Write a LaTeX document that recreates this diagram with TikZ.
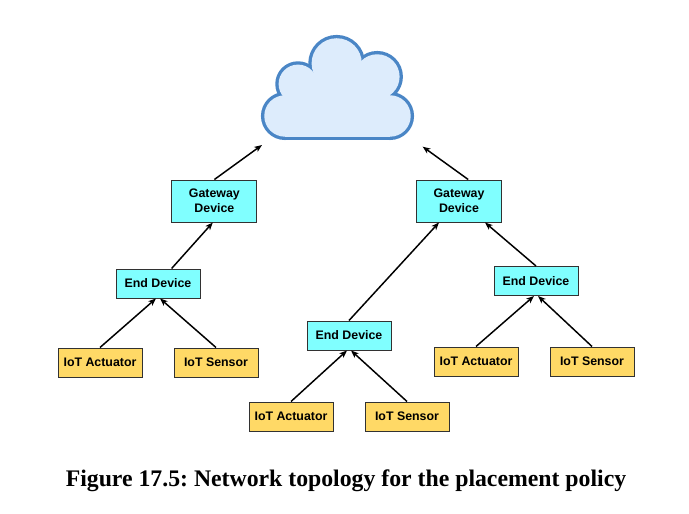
\documentclass[tikz,border=0pt]{standalone}
\usepackage{fontspec}
\setmainfont{Liberation Serif}
\setsansfont{Liberation Sans}
\usetikzlibrary{arrows.meta}

\definecolor{devcyan}{RGB}{128,255,255}
\definecolor{iotorange}{RGB}{255,217,102}
\definecolor{cloudfill}{RGB}{221,236,252}
\definecolor{cloudline}{RGB}{74,134,198}
\definecolor{boxline}{RGB}{50,50,50}

\begin{document}
\begin{tikzpicture}[->,>={Stealth[length=1.9mm,width=1.5mm,inset=0.5mm]},
    device/.style={rectangle,
          draw = boxline,
          line width = 0.7pt,
          fill = devcyan,
          minimum width = 2.1cm,
          minimum height = 0.725cm,
          inner sep = 0pt,
          align = center,
          font = \sffamily\bfseries\fontsize{8.8}{10.9}\selectfont},
    gateway/.style={device,
          minimum width = 2.125cm,
          minimum height = 1.05cm},
    iot/.style={device,
          fill = iotorange},
    link/.style={line width = 1.05pt}]

    \useasboundingbox (0,0) rectangle (17.225,12.85);

    % cloud: outline of the lobes first, then the fill over it
    \begin{scope}[-]
    \foreach \cx/\cy/\cr in {7.125/9.95/0.518, 7.45/10.75/0.485, 8.417/11.267/0.627,
                             9.43/10.933/0.56, 9.75/9.95/0.518}
        \draw[cloudline, line width = 0.166cm] (\cx,\cy) circle (\cr);
    \draw[cloudline, line width = 0.166cm] (7.125,9.432) rectangle (9.75,10.85);
    \foreach \cx/\cy/\cr in {7.125/9.95/0.518, 7.45/10.75/0.485, 8.417/11.267/0.627,
                             9.43/10.933/0.56, 9.75/9.95/0.518}
        \fill[cloudfill] (\cx,\cy) circle (\cr);
    \fill[cloudfill] (7.125,9.432) rectangle (9.75,10.85);
    \fill[cloudfill] (7.3,9.5) rectangle (9.6,11.0);
    \end{scope}
    \coordinate (cloudL) at (6.55,9.225);
    \coordinate (cloudR) at (10.567,9.183);

    % gateways
    \node[gateway] (GW1) at (5.36,7.825) {Gateway\\Device};
    \node[gateway] (GW2) at (11.475,7.825) {Gateway\\Device};

    % end devices
    \node[device] (ED1) at (3.95,5.7625) {End Device};
    \node[device] (ED2) at (8.725,4.4625) {End Device};
    \node[device] (ED3) at (13.4,5.825) {End Device};

    % iot nodes
    \node[iot] (ACT1) at (2.5,3.7875) {IoT Actuator};
    \node[iot] (SEN1) at (5.4,3.7875) {IoT Sensor};
    \node[iot] (ACT2) at (7.275,2.4375) {IoT Actuator};
    \node[iot] (SEN2) at (10.175,2.4375) {IoT Sensor};
    \node[iot] (ACT3) at (11.9,3.8125) {IoT Actuator};
    \node[iot] (SEN3) at (14.8,3.8125) {IoT Sensor};

    \node[anchor=base,
          font = \bfseries\fontsize{16.9}{20}\selectfont\frenchspacing] (caption) at (8.65,0.68)
          {Figure 17.5: Network topology for the placement policy};

    \path[link]
     (GW1.north) edge (cloudL)
     ([xshift=0.23cm]GW2.north) edge (cloudR)
     ([xshift=0.34cm]ED1.north) edge ([xshift=-0.04cm]GW1.south)
     (ED2.north) edge ([xshift=-0.5cm]GW2.south)
     (ED3.north) edge ([xshift=0.65cm]GW2.south)
     (ACT1.north) edge ([xshift=-0.05cm]ED1.south)
     (SEN1.north) edge ([xshift=0.05cm]ED1.south)
     (ACT2.north) edge ([xshift=-0.05cm]ED2.south)
     (SEN2.north) edge ([xshift=0.05cm]ED2.south)
     (ACT3.north) edge ([xshift=-0.05cm]ED3.south)
     (SEN3.north) edge ([xshift=0.05cm]ED3.south);

\end{tikzpicture}
\end{document}
